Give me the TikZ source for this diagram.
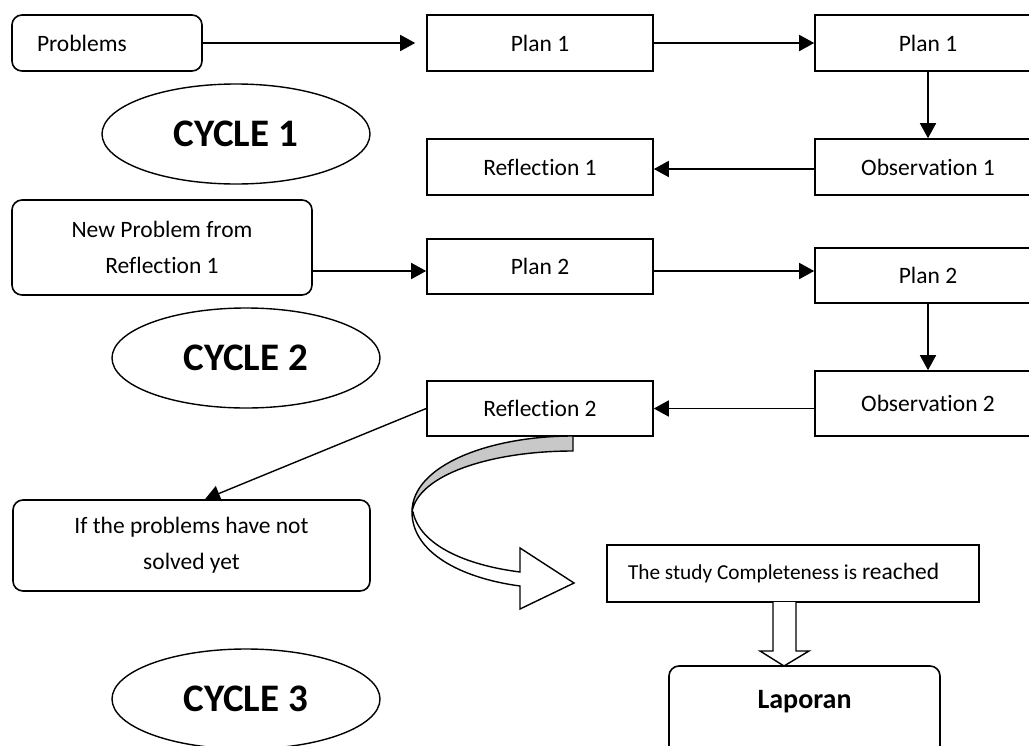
\documentclass[tikz,border=0pt]{standalone}
\usepackage{fontspec}
\setmainfont{Carlito}[Ligatures=NoCommon]
\usetikzlibrary{arrows.meta,shapes.geometric,calc}
\definecolor{ribbon}{RGB}{200,200,200}
\begin{document}
\begin{tikzpicture}[x=1pt,y=-1pt,
  every node/.style={font=\fontsize{23.5}{36}\selectfont},
  box/.style={draw, line width=1.6pt, rectangle, inner sep=0pt, minimum width=226pt, minimum height=56pt, align=center},
  rbox/.style={box, rounded corners=10pt},
  cyc/.style={draw, ellipse, line width=1.4pt, minimum width=268pt, minimum height=100pt, inner sep=0pt, font=\fontsize{39}{44}\selectfont\bfseries},
  conn/.style={line width=1.6pt, -{Triangle[length=15pt,width=16pt]}},
  shapeline/.style={line width=1.4pt, line join=miter},
]
\useasboundingbox (0,0) rectangle (1029,745);
\clip (0,0) rectangle (1029,745);

% nodes
\node[rbox, minimum width=190pt] (prob) at (107,43) {\makebox[140pt][l]{Problems}};
\node[box] (p1a) at (540,43) {Plan 1};
\node[box] (p1b) at (928,43) {Plan 1};
\node[cyc] (c1) at (236,134) {CYCLE 1};
\node[box] (r1) at (540,167) {Reflection 1};
\node[box] (o1) at (928,167) {Observation 1};
\node[rbox, minimum width=300pt, minimum height=95pt] (np) at (162,247.5) {New Problem from\\Reflection 1};
\node[box, minimum height=55pt] (p2a) at (540,266.5) {Plan 2};
\node[box, minimum height=55pt] (p2b) at (928,275.5) {Plan 2};
\node[cyc] (c2) at (246,358) {CYCLE 2};
\node[box, minimum height=55pt] (r2) at (540,408.5) {Reflection 2};
\node[box, minimum height=65pt] (o2) at (928,403.5) {Observation 2};
\node[rbox, minimum width=357pt, minimum height=91pt] (ifb) at (191.5,545.5) {If the problems have not\\solved yet};
\node[box, minimum width=372pt, minimum height=57pt] (study) at (793,573.5) {\makebox[330pt][l]{{\fontsize{21.3}{36}\selectfont The study Completeness is }reached}};
\node[rbox, minimum width=271pt, minimum height=0pt, text height=42pt, text depth=52pt, font=\fontsize{28}{34}\selectfont\bfseries] (lap) at (804.5,713) {Laporan};
\node[cyc] (c3) at (246,699) {CYCLE 3};

% connectors
\coordinate (row2) at (0,271);
\draw[conn, shorten >=11pt] (prob.east) -- (p1a.west);
\draw[conn] (p1a.east) -- (p1b.west);
\draw[conn] (p1b.south) -- (o1.north);
\draw[conn] ([yshift=-2pt]o1.west) -- ([yshift=-2pt]r1.east);
\draw[conn] (np.east |- row2) -- (p2a.west |- row2);
\draw[conn] (p2a.east |- row2) -- (p2b.west |- row2);
\draw[conn] (p2b.south) -- (o2.north);
\draw[conn] (o2.west |- r2.east) -- (r2.east);
\draw[line width=1.4pt, -{Triangle[length=15pt,width=16pt]}] (r2.west) -- ([xshift=13.5pt]ifb.north);

% curved ribbon arrow from Reflection 2 to the study box
\draw[shapeline, fill=ribbon] (573,436) .. controls (490,436) and (412,465) .. (412,512)
  .. controls (418,475) and (490,451) .. (573,451) -- cycle;
\draw[shapeline, fill=white] (412,512) .. controls (412,552) and (460,578) .. (520,586)
  -- (520,609) -- (574,583) -- (520,548) -- (520,572)
  .. controls (465,565) and (420,545) .. (413,512) -- cycle;

% block arrow from the study box to Laporan
\draw[shapeline, fill=white] (773,602) -- (773,651) -- (760,651) -- (784,666) -- (809,651) -- (796,651) -- (796,602);
\end{tikzpicture}
\end{document}
